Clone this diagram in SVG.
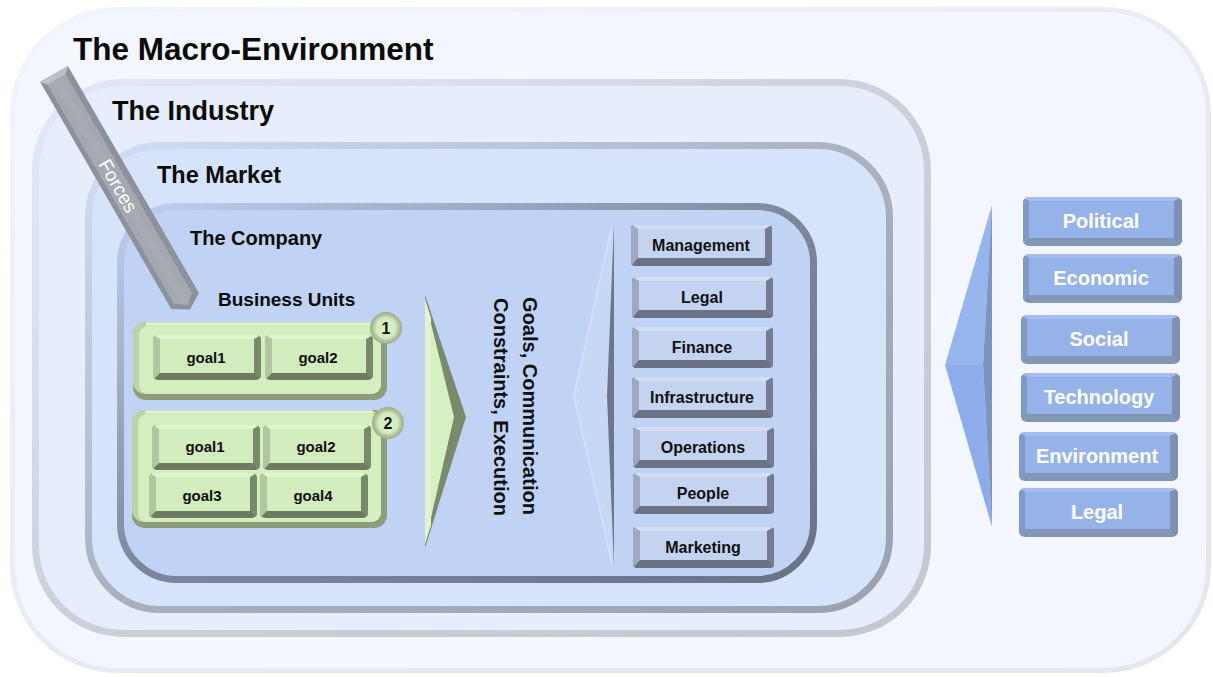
<svg xmlns="http://www.w3.org/2000/svg" width="1213" height="677" viewBox="0 0 1213 677">
  <style>
    text { font-family: "Liberation Sans", Arial, sans-serif; font-weight: bold; }
    .title { fill: #0b0b0b; }
    .dept { font-size: 16px; fill: #101010; text-anchor: middle; }
    .pest { font-size: 20px; fill: #ffffff; text-anchor: middle; }
    .goal { font-size: 15px; fill: #101010; text-anchor: middle; }
    .badge { font-size: 16px; fill: #101010; text-anchor: middle; }
    .flow { font-size: 20px; fill: #101010; text-anchor: middle; }
    .force { font-size: 19px; font-weight: normal; fill: #ffffff; text-anchor: middle; }
  </style>
  <defs>
    <!-- bevelled frame borders: faint at top-left, dark at bottom-right -->
    <linearGradient id="gMacroStroke" x1="0" y1="0" x2="1" y2="1">
      <stop offset="0" stop-color="#f1f5fc"/>
      <stop offset="0.3" stop-color="#eceff6"/>
      <stop offset="0.55" stop-color="#e7eaf0"/>
      <stop offset="1" stop-color="#e4e7ed"/>
    </linearGradient>
    <linearGradient id="gIndStroke" x1="0" y1="0" x2="1" y2="1">
      <stop offset="0" stop-color="#e1e8f8"/>
      <stop offset="0.25" stop-color="#d8deec"/>
      <stop offset="0.5" stop-color="#cbd0da"/>
      <stop offset="1" stop-color="#c3c7d0"/>
    </linearGradient>
    <linearGradient id="gMktStroke" x1="0" y1="0" x2="1" y2="1">
      <stop offset="0" stop-color="#d2def6"/>
      <stop offset="0.25" stop-color="#bcc7db"/>
      <stop offset="0.5" stop-color="#a9b1c1"/>
      <stop offset="1" stop-color="#9aa2b2"/>
    </linearGradient>
    <linearGradient id="gCoStroke" x1="0" y1="0" x2="1" y2="1">
      <stop offset="0" stop-color="#bfd0ef"/>
      <stop offset="0.25" stop-color="#9eabc4"/>
      <stop offset="0.5" stop-color="#7d879b"/>
      <stop offset="1" stop-color="#6a7386"/>
    </linearGradient>
    <radialGradient id="gBadge" cx="0.5" cy="0.5" r="0.5">
      <stop offset="0" stop-color="#dcf2c9"/>
      <stop offset="0.62" stop-color="#d3ebbf"/>
      <stop offset="0.8" stop-color="#b2c69e"/>
      <stop offset="1" stop-color="#9cae89"/>
    </radialGradient>

    <clipPath id="cpDept"><rect width="141" height="41" rx="4"/></clipPath>
    <clipPath id="cpPest"><rect width="159" height="49" rx="6"/></clipPath>
    <clipPath id="cpGoal"><rect width="108" height="45" rx="5"/></clipPath>

    <!-- company function box -->
    <g id="deptBox" clip-path="url(#cpDept)">
      <rect width="141" height="41" fill="#6a7285"/>
      <polygon points="141,0 141,41 134,33 134,4" fill="#737c90"/>
      <polygon points="0,0 7,4 7,33 0,41" fill="#9ea9c0"/>
      <polygon points="0,0 141,0 134,4 7,4" fill="#d3def4"/>
      <rect x="7" y="4" width="127" height="29" fill="#c3d3f0"/>
    </g>
    <!-- PESTEL factor box -->
    <g id="pestBox" clip-path="url(#cpPest)">
      <rect width="159" height="49" fill="#8496b6"/>
      <polygon points="159,0 159,49 151,41 151,4" fill="#7e91b4"/>
      <polygon points="0,0 6,4 6,41 0,49" fill="#8199c8"/>
      <polygon points="0,0 159,0 151,4 6,4" fill="#a3bdee"/>
      <rect x="6" y="4" width="145" height="37" fill="#95b3e8"/>
    </g>
    <!-- business unit goal box -->
    <g id="goalBox" clip-path="url(#cpGoal)">
      <rect width="108" height="45" fill="#6e7b60"/>
      <polygon points="108,0 108,45 101,38 101,4" fill="#7a8969"/>
      <polygon points="0,0 7,4 7,38 0,45" fill="#b1c59e"/>
      <polygon points="0,0 108,0 101,4 7,4" fill="#e0f4cf"/>
      <rect x="7" y="4" width="94" height="34" fill="#d2ecbe"/>
    </g>
  </defs>

  <rect width="1213" height="677" fill="#ffffff"/>

  <!-- nested environment frames -->
  <g id="macro">
    <rect x="12.5" y="9.5" width="1196" height="661" rx="105" fill="#f3f7fd" stroke="url(#gMacroStroke)" stroke-width="5"/>
    <text class="title" x="73" y="60" font-size="31.5">The Macro-Environment</text>
  </g>
  <g id="industry">
    <rect x="35.5" y="82.5" width="892" height="551" rx="88" fill="#e6edfb" stroke="url(#gIndStroke)" stroke-width="7"/>
    <text class="title" x="112" y="120" font-size="27">The Industry</text>
  </g>
  <g id="market">
    <rect x="88.5" y="145.5" width="801" height="464" rx="72" fill="#d6e3f8" stroke="url(#gMktStroke)" stroke-width="7"/>
    <text class="title" x="157" y="183" font-size="23.5">The Market</text>
  </g>
  <g id="company">
    <rect x="120.5" y="206.5" width="693" height="373" rx="56" fill="#c0d3f5" stroke="url(#gCoStroke)" stroke-width="7"/>
    <text class="title" x="190" y="245" font-size="20">The Company</text>
    <text class="title" x="218" y="306" font-size="19">Business Units</text>
  </g>

  <!-- arrows between the layers -->
  <g id="connectors">
    <!-- Forces bar pushing in from the macro-environment -->
    <g transform="translate(54,74) rotate(60)">
      <polygon points="0,-16 262,-16 272,0 262,16 0,16" fill="#8c919b"/>
      <polygon points="0,-16 6,-10 6,11 0,16" fill="#bcc0c8"/>
      <polygon points="6,-10 259,-10 267,0 259,11 6,11" fill="#a4a8b1"/>
      <polygon points="6,-4 262,-4 267,0 262,5 6,5" fill="#a9adb6" opacity="0.6"/>
      <text class="force" x="129" y="7">Forces</text>
    </g>
    <!-- business units to company functions -->
    <polygon points="425,295 466,417 425,548" fill="#7b8a6a"/>
    <polygon points="425,299 454,417 425,544" fill="#d6f0c1"/>
    <polygon points="425,299 431,318 431,525 425,544" fill="#e1f6cf"/>
    <!-- company functions gather toward the business units -->
    <polygon points="614,222 573,396 614,568" fill="#c7d8f6"/>
    <polyline points="612,226 574,396 612,564" fill="none" stroke="#d4e2fb" stroke-width="1.5"/>
    <polygon points="614,222 607,396 614,568" fill="#6d778b"/>
    <!-- PESTEL factors pressing on the industry -->
    <polygon points="992,205 945,365 983,365" fill="#96b5ed"/>
    <polygon points="945,365 992,527 983,365" fill="#8cadea"/>
    <polygon points="992,205 983,365 992,527" fill="#7c94c1"/>
  </g>

  <!-- business unit 1 -->
  <g id="bu1">
    <rect x="133" y="322" width="254" height="78" rx="13" fill="#8c9d7a"/>
    <rect x="133" y="322" width="248" height="72" rx="12" fill="#bdd3a7"/>
    <rect x="139" y="326" width="242" height="68" rx="9" fill="#d4eebf"/>
    <rect x="146" y="322.5" width="226" height="3" fill="#e2f5d2"/>
    <use href="#goalBox" x="153" y="335"/>
    <text class="goal" x="206" y="363">goal1</text>
    <use href="#goalBox" x="265" y="335"/>
    <text class="goal" x="318" y="363">goal2</text>
    <circle cx="386" cy="328" r="16" fill="url(#gBadge)"/>
    <text class="badge" x="386" y="334">1</text>
  </g>

  <!-- business unit 2 -->
  <g id="bu2">
    <rect x="132" y="410" width="255" height="118" rx="13" fill="#8c9d7a"/>
    <rect x="132" y="410" width="249" height="112" rx="12" fill="#bdd3a7"/>
    <rect x="138" y="414" width="243" height="108" rx="9" fill="#d4eebf"/>
    <rect x="145" y="410.5" width="228" height="3" fill="#e2f5d2"/>
    <use href="#goalBox" x="152" y="425"/>
    <text class="goal" x="205" y="452">goal1</text>
    <use href="#goalBox" x="263" y="425"/>
    <text class="goal" x="316" y="452">goal2</text>
    <use href="#goalBox" x="149" y="473"/>
    <text class="goal" x="202" y="501">goal3</text>
    <use href="#goalBox" x="260" y="473"/>
    <text class="goal" x="313" y="501">goal4</text>
    <circle cx="388" cy="423" r="16" fill="url(#gBadge)"/>
    <text class="badge" x="388" y="429">2</text>
  </g>

  <!-- flow label -->
  <g id="flow-label">
    <text class="flow" transform="translate(523,406) rotate(90)" x="0" y="0">Goals, Communication</text>
    <text class="flow" transform="translate(494,407) rotate(90)" x="0" y="0">Constraints, Execution</text>
  </g>

  <!-- company functions -->
  <g id="management"><use href="#deptBox" x="631" y="225"/><text class="dept" x="701" y="251">Management</text></g>
  <g id="legal-co"><use href="#deptBox" x="632" y="277"/><text class="dept" x="702" y="303">Legal</text></g>
  <g id="finance"><use href="#deptBox" x="632" y="327"/><text class="dept" x="702" y="353">Finance</text></g>
  <g id="infrastructure"><use href="#deptBox" x="632" y="377"/><text class="dept" x="702" y="403">Infrastructure</text></g>
  <g id="operations"><use href="#deptBox" x="633" y="427"/><text class="dept" x="703" y="453">Operations</text></g>
  <g id="people"><use href="#deptBox" x="633" y="473"/><text class="dept" x="703" y="499">People</text></g>
  <g id="marketing"><use href="#deptBox" x="633" y="527"/><text class="dept" x="703" y="553">Marketing</text></g>

  <!-- PESTEL factors -->
  <g id="political"><use href="#pestBox" x="1023" y="197"/><text class="pest" x="1101" y="228">Political</text></g>
  <g id="economic"><use href="#pestBox" x="1023" y="254"/><text class="pest" x="1101" y="285">Economic</text></g>
  <g id="social"><use href="#pestBox" x="1021" y="315"/><text class="pest" x="1099" y="346">Social</text></g>
  <g id="technology"><use href="#pestBox" x="1021" y="373"/><text class="pest" x="1099" y="404">Technology</text></g>
  <g id="environment"><use href="#pestBox" x="1019" y="432"/><text class="pest" x="1097" y="463">Environment</text></g>
  <g id="legal-env"><use href="#pestBox" x="1019" y="488"/><text class="pest" x="1097" y="519">Legal</text></g>
</svg>
